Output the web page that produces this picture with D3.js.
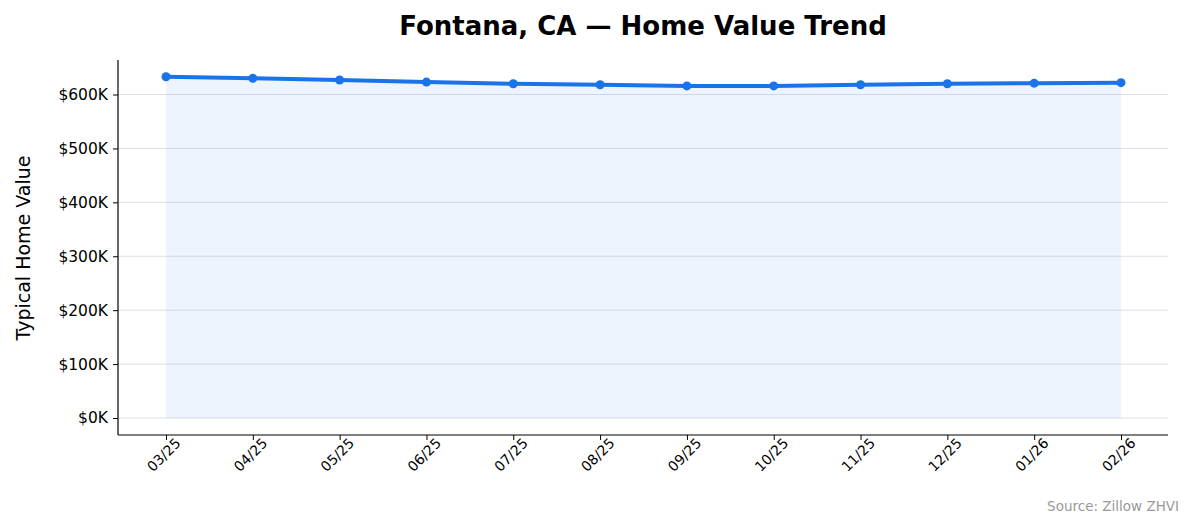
<!DOCTYPE html>
<html><head><meta charset="utf-8">
<script src="https://cdn.jsdelivr.net/npm/d3@7"></script>
<style>body{margin:0;background:#fff;font-family:"DejaVu Sans",sans-serif}</style>
</head><body><svg id="c" width="1194" height="529"></svg>
<script>
const months = ["03/25","04/25","05/25","06/25","07/25","08/25","09/25","10/25","11/25","12/25","01/26","02/26"];
const values = [633000,630000,627000,623000,620000,618000,616000,616000,618000,620000,621000,622000];
const yTicks = [0,100000,200000,300000,400000,500000,600000];

const svg = d3.select("#c");
const L=118,R=1168,T=60,B=435;
const x = d3.scalePoint().domain(months).range([166,1121]);
const y = d3.scaleLinear().domain([-31500,664000]).range([B,T]);

svg.append("g").selectAll("line").data(yTicks).join("line")
 .attr("x1",L).attr("x2",R).attr("y1",d=>y(d)).attr("y2",d=>y(d))
 .attr("stroke","#dde0e6").attr("stroke-width",1);

const pts = months.map((m,i)=>({m,v:values[i]}));
svg.append("path").datum(pts)
 .attr("d",d3.area().x(d=>x(d.m)).y0(y(0)).y1(d=>y(d.v)))
 .attr("fill","#1a73e8").attr("fill-opacity",0.08);
svg.append("path").datum(pts)
 .attr("d",d3.line().x(d=>x(d.m)).y(d=>y(d.v)))
 .attr("fill","none").attr("stroke","#1a73e8").attr("stroke-width",4).attr("stroke-linejoin","round");
svg.append("g").selectAll("circle").data(pts).join("circle")
 .attr("cx",d=>x(d.m)).attr("cy",d=>y(d.v)).attr("r",4.5).attr("fill","#1a73e8");

const ya = svg.append("g").attr("transform",`translate(${L},0)`)
 .call(d3.axisLeft(y).tickValues(yTicks).tickFormat(d=>"$"+d/1000+"K").tickSize(5).tickPadding(5));
ya.select(".domain").attr("d",`M0,${T}V${B}`);
const xa = svg.append("g").attr("transform",`translate(0,${B})`)
 .call(d3.axisBottom(x).tickSize(5).tickPadding(5));
xa.select(".domain").attr("d",`M${L},0H${R}`);
svg.selectAll(".domain").attr("stroke","#000").attr("stroke-width",1.2);
ya.selectAll("text").attr("font-size",15.5).attr("fill","#000").attr("font-family","DejaVu Sans");
xa.selectAll("text").attr("font-size",14).attr("fill","#000").attr("font-family","DejaVu Sans")
 .attr("text-anchor","end").attr("dx","0.3em").attr("dy","0.5em").attr("transform","rotate(-45)");

svg.append("text").attr("x",643).attr("y",35).attr("text-anchor","middle")
 .attr("font-size",26).attr("font-weight","bold").text("Fontana, CA — Home Value Trend");
svg.append("text").attr("transform","translate(30,248) rotate(-90)").attr("text-anchor","middle")
 .attr("font-size",19).text("Typical Home Value");
svg.append("text").attr("x",1179).attr("y",511).attr("text-anchor","end")
 .attr("font-size",13.5).attr("fill","#999").text("Source: Zillow ZHVI");
</script></body></html>
